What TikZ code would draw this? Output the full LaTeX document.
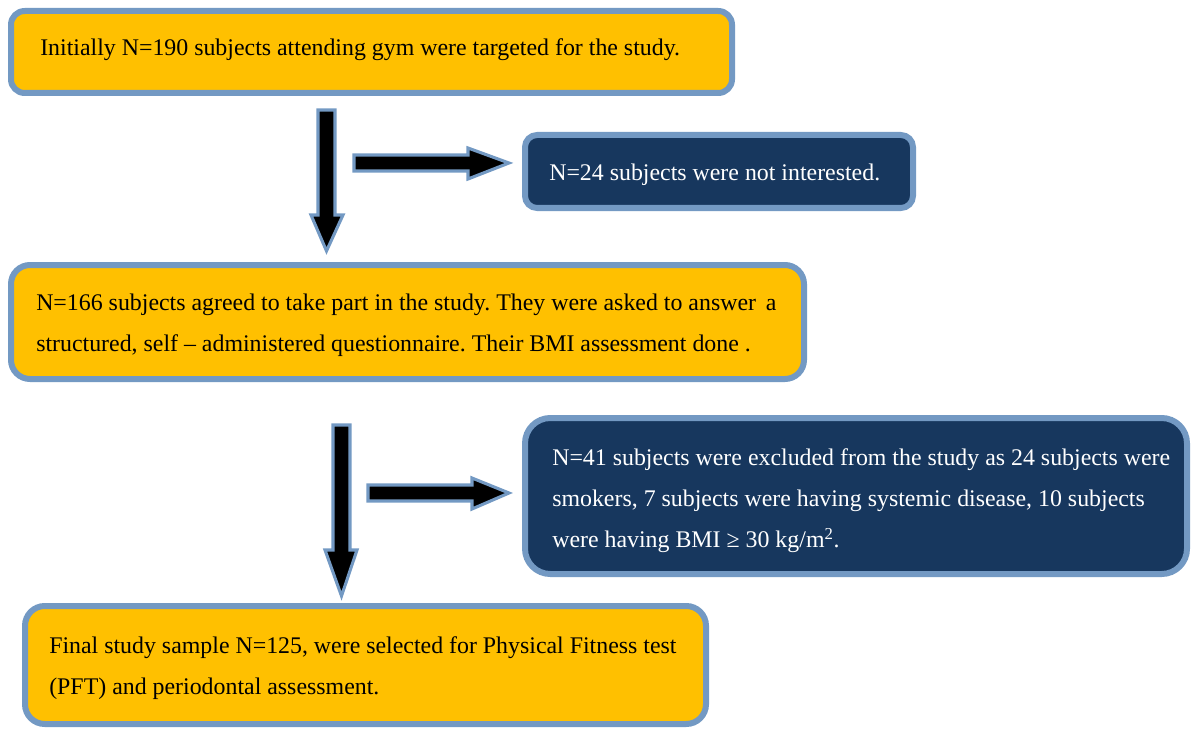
\documentclass[tikz,border=0pt]{standalone}
\usepackage{fontspec}
\setmainfont{Liberation Serif}
\frenchspacing
\definecolor{boxorange}{HTML}{FFC000}
\definecolor{boxnavy}{HTML}{17375E}
\definecolor{edgeblue}{HTML}{7399C3}
\begin{document}
\begin{tikzpicture}[x=0.75pt,y=-0.75pt,
  box/.style={draw=edgeblue, line width=4.5pt, rounded corners=11pt, anchor=north west, inner sep=0pt, outer sep=0pt},
  orangebox/.style={box, fill=boxorange},
  navybox/.style={box, fill=boxnavy},
  txt/.style={anchor=west, align=left, inner sep=0pt, font=\fontsize{17.9}{30.8}\selectfont},
  blockarrow/.style={fill=black, draw=edgeblue, line width=2.3pt, line join=miter, miter limit=20}]
\useasboundingbox (0,0) rectangle (1192,731);
% boxes
\node[orangebox, rounded corners=10.3pt, minimum width=721*0.75pt, minimum height=82*0.75pt] (b1) at (11,11) {};
\node[navybox, rounded corners=9.1pt, minimum width=388*0.75pt, minimum height=73*0.75pt] (b2) at (525,135) {};
\node[orangebox, rounded corners=14.3pt, minimum width=793*0.75pt, minimum height=114*0.75pt] (b3) at (11,265) {};
\node[navybox, rounded corners=19pt, minimum width=662*0.75pt, minimum height=156*0.75pt] (b4) at (525,418) {};
\node[orangebox, rounded corners=14.8pt, minimum width=681*0.75pt, minimum height=118*0.75pt] (b5) at (25,606) {};
% texts
\node[txt] (t1) at ([xshift=29*0.75pt,yshift=2*0.75pt]b1.west) {Initially N=190 subjects attending gym were targeted for the study.};
\node[txt, text=white] (t2) at ([xshift=24*0.75pt,yshift=-3*0.75pt]b2.west) {N=24 subjects were not interested.};
\node[txt] (t3) at ([xshift=25*0.75pt,yshift=-3*0.75pt]b3.west) {N=166 subjects agreed to take part in the study. They were asked to answer\, a\\structured, self -- administered questionnaire. Their BMI assessment done .};
\node[txt, text=white] (t4) at ([xshift=27*0.75pt,yshift=-5*0.75pt]b4.west) {N=41 subjects were excluded from the study as 24 subjects were\\smokers, 7 subjects were having systemic disease, 10 subjects\\were having BMI ≥ 30 kg/m\textsuperscript{2}.};
\node[txt] (t5) at ([xshift=24*0.75pt,yshift=-3*0.75pt]b5.west) {Final study sample N=125, were selected for Physical Fitness test\\(PFT) and periodontal assessment.};
% block arrows
\draw[blockarrow] (318,110) -- (335,110) -- (335,215) -- (343,215) -- (326.5,251) -- (311,215) -- (318,215) -- cycle;
\draw[blockarrow] (354,155) -- (468,155) -- (468,148) -- (509,163) -- (468,179) -- (468,171) -- (354,171) -- cycle;
\draw[blockarrow] (333,425) -- (350,425) -- (350,550) -- (357,550) -- (341.5,596) -- (325,550) -- (333,550) -- cycle;
\draw[blockarrow] (368,485) -- (472,485) -- (472,478) -- (509,493) -- (472,509) -- (472,501) -- (368,501) -- cycle;
\end{tikzpicture}
\end{document}
